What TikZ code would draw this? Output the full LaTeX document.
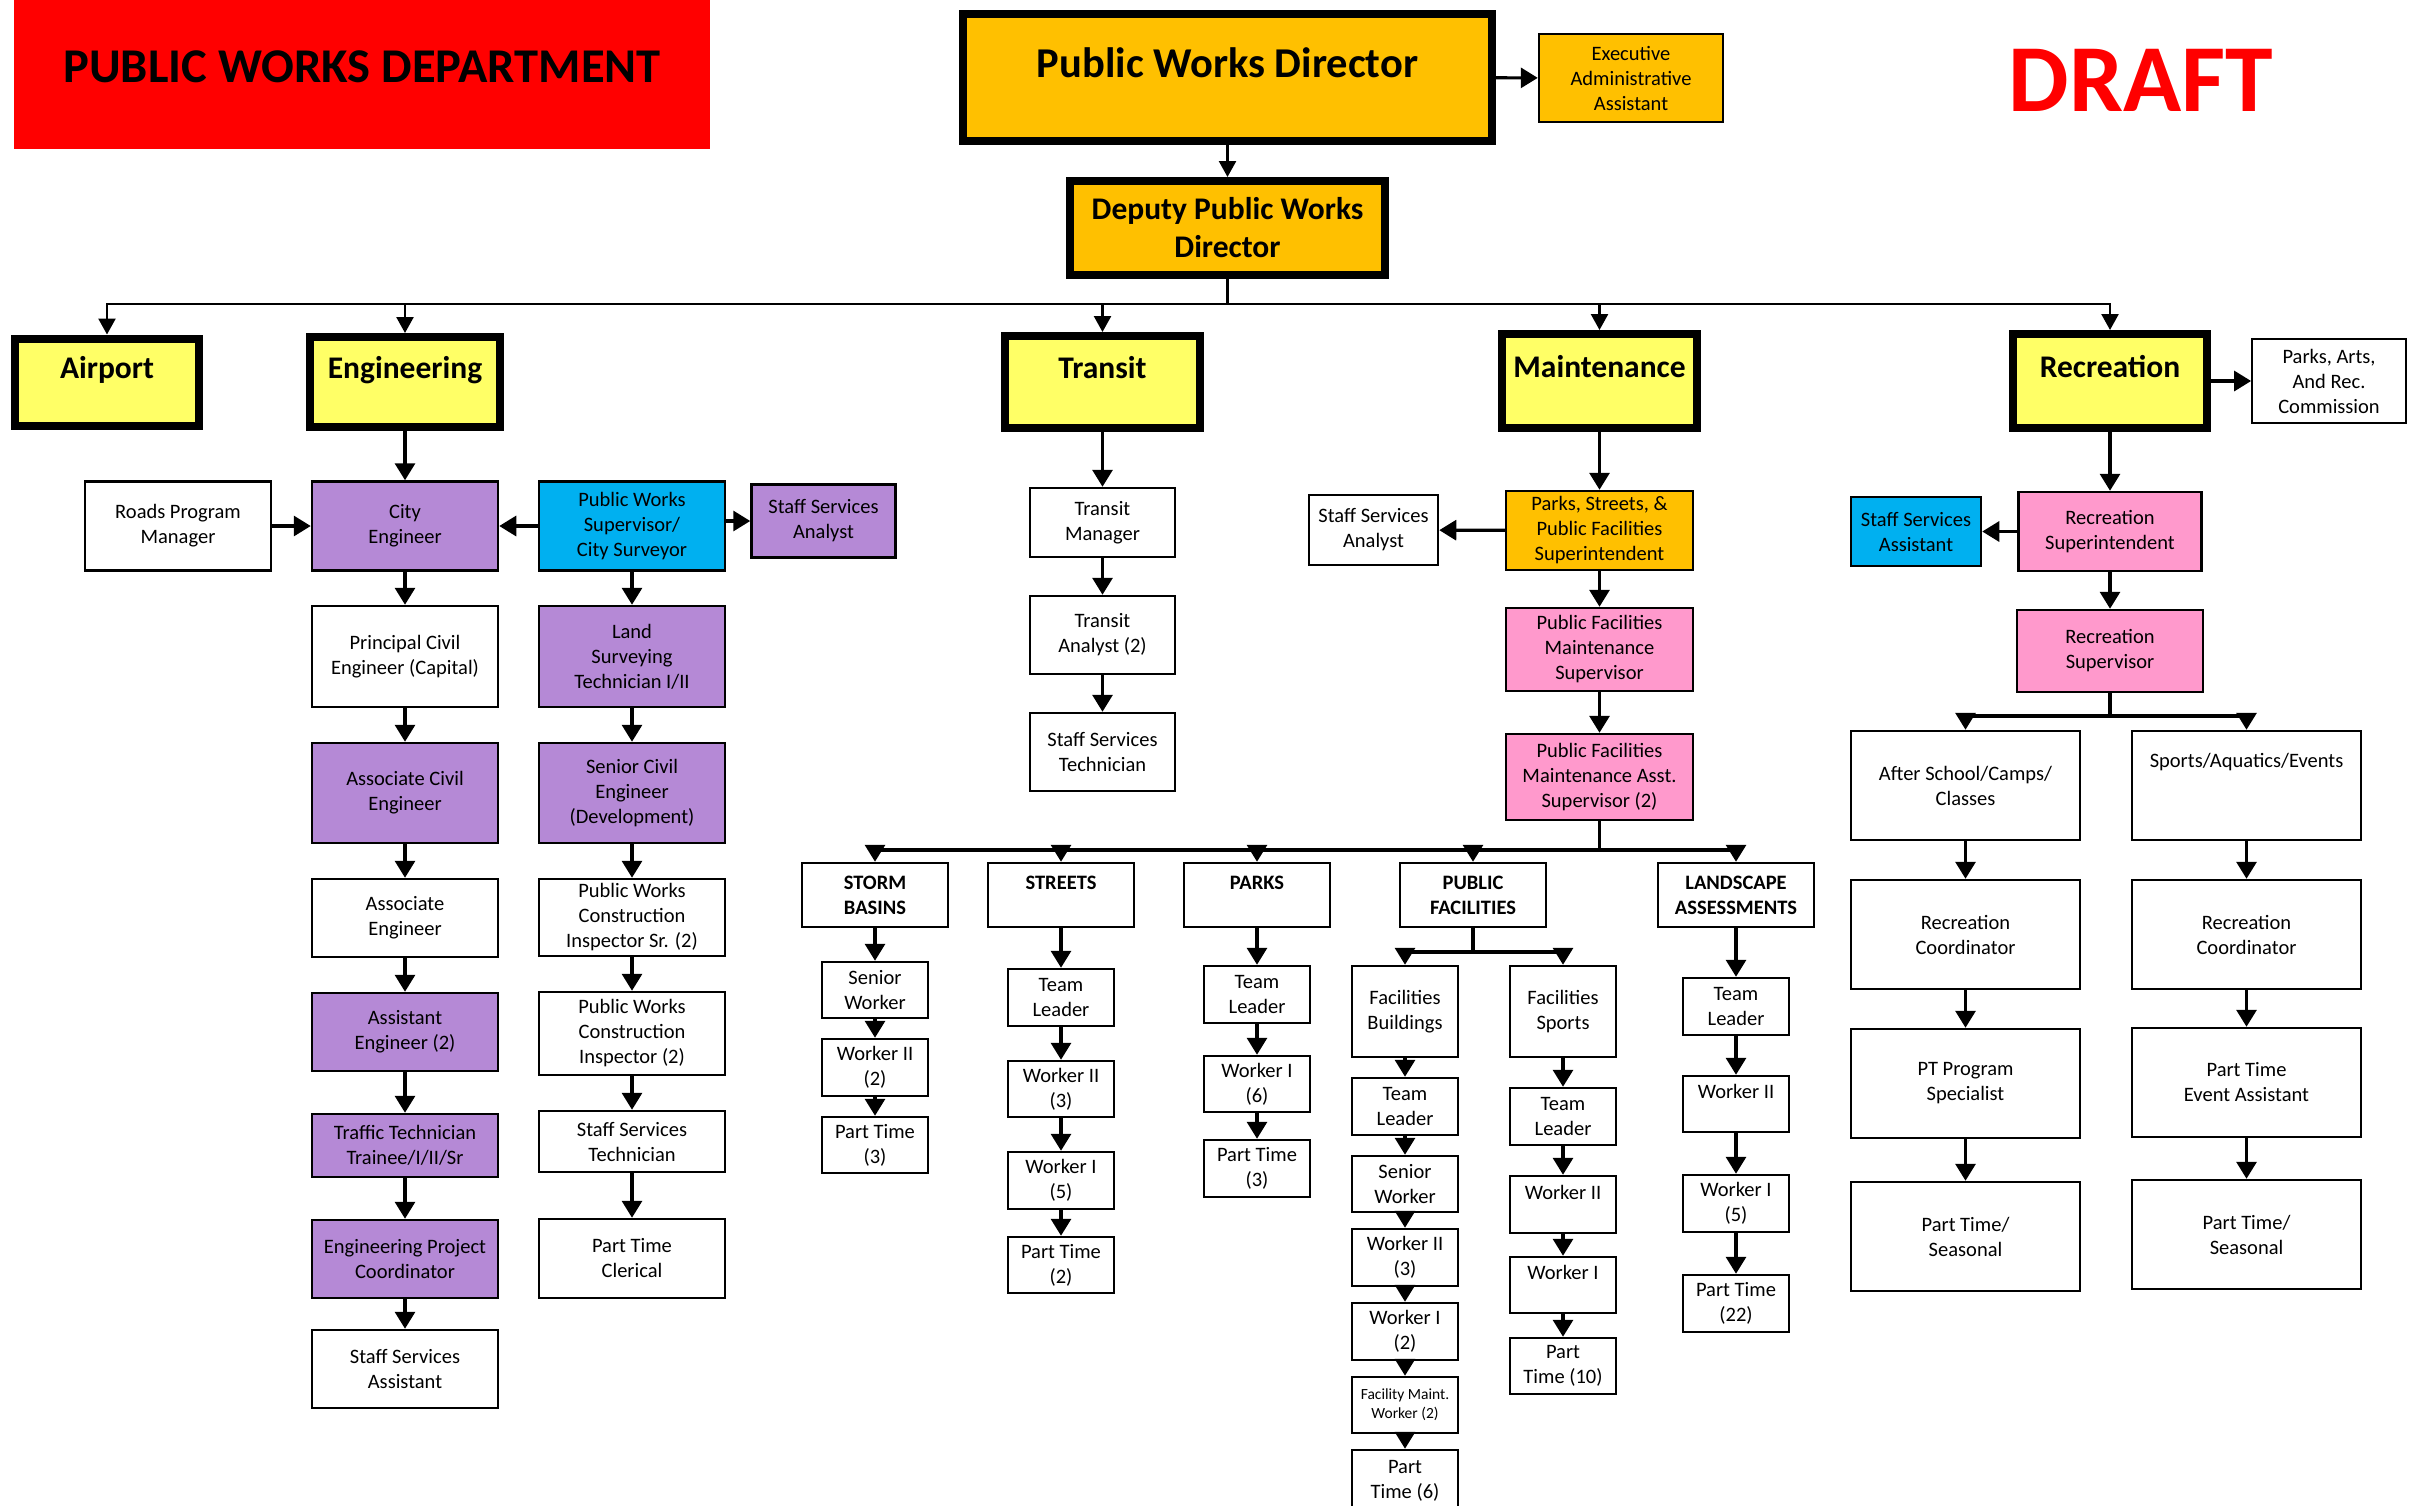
\documentclass[tikz,border=0pt]{standalone}
\usepackage{fontspec}
\setmainfont{Carlito}
\usetikzlibrary{arrows.meta}

\definecolor{pwred}{HTML}{FF0000}
\definecolor{pworange}{HTML}{FFC000}
\definecolor{pwyellow}{HTML}{FFFF66}
\definecolor{pwpurple}{HTML}{B589D6}
\definecolor{pwblue}{HTML}{00B0F0}
\definecolor{pwpink}{HTML}{FF99CC}

\tikzset{
  box/.style={draw, line width=2.5pt, fill=white, inner sep=1pt, align=center},
  dims/.style 2 args={minimum width=#1pt, minimum height=#2pt},
  purplebox/.style={box, fill=pwpurple},
  bluebox/.style={box, fill=pwblue},
  pinkbox/.style={box, fill=pwpink},
  orangebox/.style={box, fill=pworange},
  headbox/.style={draw, line width=8pt, fill=pworange, align=center, font=\bfseries\fontsize{31.5}{38}\selectfont},
  dept/.style={draw, line width=8pt, fill=pwyellow, font=\bfseries\fontsize{31.5}{38}\selectfont, text height=22pt, text depth=30pt},
  section/.style={box, font=\fontsize{20.5}{25}\selectfont\bfseries},
  conn/.style={line width=3.2pt},
  arr/.style={line width=3.2pt, -{Triangle[width=20pt,length=17pt]}},
  toparr/.style={line width=2.5pt, -{Triangle[width=17pt,length=16pt]}},
}

\begin{document}
\begin{tikzpicture}[x=1pt, y=-1pt, font=\fontsize{20.5}{25}\selectfont]
\useasboundingbox (0,0) rectangle (2424,1505);

% title and draft mark
\node[fill=pwred, dims={696}{149}, font=\bfseries\fontsize{48.5}{58}\selectfont, text height=31pt, text depth=16pt] (title) at (362,74.5) {PUBLIC WORKS DEPARTMENT};
\node[text=pwred, font=\bfseries\fontsize{96}{115}\selectfont] (draft) at (2141,80) {DRAFT};

% director level
\node[headbox, dims={529}{127}, font=\bfseries\fontsize{42.5}{51}\selectfont, text height=28pt, text depth=28pt] (director) at (1227.5,77.5) {Public Works Director};
\node[orangebox, dims={184}{88}] (exec) at (1631,78) {Executive\\Administrative\\Assistant};
\node[headbox, dims={315}{94}] (deputy) at (1227.5,228) {Deputy Public Works\\Director};

% divisions
\node[dept, dims={184}{87}] (airport) at (107,382) {Airport};
\node[dept, dims={190}{90}] (engineering) at (405,382) {Engineering};
\node[dept, dims={195}{92}] (transit) at (1102.5,382) {Transit};
\node[dept, dims={195}{94}] (maintenance) at (1599.5,381) {Maintenance};
\node[dept, dims={194}{94}] (recreation) at (2110,381) {Recreation};
\node[box, line width=1.8pt, dims={154}{84}] (parc) at (2329,381) {Parks, Arts,\\And Rec.\\Commission};

\draw[toparr] (director) -- (deputy);
\draw[arr] (director) -- (exec);
\coordinate (topbus) at (1227.5,304);
\draw[line width=2.5pt] (deputy) -- (topbus);
\draw[toparr] (topbus) -| (airport);
\draw[toparr] (topbus) -| (engineering);
\draw[toparr] (topbus) -| (transit);
\draw[toparr] (topbus) -| (maintenance);
\draw[toparr] (topbus) -| (recreation);
\draw[arr] (recreation) -- (parc);

% engineering
\node[box, dims={186}{89}] (roads) at (178,526) {Roads Program\\Manager};
\node[purplebox, dims={186}{89}] (cityeng) at (405,526) {City\\Engineer};
\node[bluebox, dims={186}{89}] (pwsuper) at (632,526) {Public Works\\Supervisor/\\City Surveyor};
\node[purplebox, dims={144}{73}] (engssa) at (823.5,521) {Staff Services\\Analyst};
\node[box, dims={186}{101}] (prince) at (405,656.5) {Principal Civil\\Engineer (Capital)};
\node[purplebox, dims={186}{100}] (acivil) at (405,793) {Associate Civil\\Engineer};
\node[box, dims={186}{78}] (aeng) at (405,918) {Associate\\Engineer};
\node[purplebox, dims={186}{78}] (asteng) at (405,1032) {Assistant\\Engineer (2)};
\node[purplebox, dims={186}{63}] (traffic) at (405,1145.5) {Traffic Technician\\Trainee/I/II/Sr};
\node[purplebox, dims={186}{78}] (epc) at (405,1259) {Engineering Project\\Coordinator};
\node[box, dims={186}{78}] (engssasst) at (405,1369) {Staff Services\\Assistant};
\node[purplebox, dims={186}{101}] (landsurv) at (632,656.5) {Land\\Surveying\\Technician I/II};
\node[purplebox, dims={186}{100}] (srcivil) at (632,793) {Senior Civil\\Engineer\\(Development)};
\node[box, dims={186}{77}] (inspsr) at (632,917.5) {Public Works\\Construction\\Inspector Sr. (2)};
\node[box, dims={186}{83}] (insp) at (632,1033.5) {Public Works\\Construction\\Inspector (2)};
\node[box, dims={186}{61}] (engsstech) at (632,1141.5) {Staff Services\\Technician};
\node[box, dims={186}{79}] (clerical) at (632,1258.5) {Part Time\\Clerical};

\draw[arr] (engineering) -- (cityeng);
\draw[arr] (roads) -- (cityeng);
\draw[arr] (pwsuper) -- (cityeng);
\draw[arr] (pwsuper.east |- engssa) -- (engssa);
\draw[arr] (cityeng) -- (prince);
\draw[arr] (prince) -- (acivil);
\draw[arr] (acivil) -- (aeng);
\draw[arr] (aeng) -- (asteng);
\draw[arr] (asteng) -- (traffic);
\draw[arr] (traffic) -- (epc);
\draw[arr] (epc) -- (engssasst);
\draw[arr] (pwsuper) -- (landsurv);
\draw[arr] (landsurv) -- (srcivil);
\draw[arr] (srcivil) -- (inspsr);
\draw[arr] (inspsr) -- (insp);
\draw[arr] (insp) -- (engsstech);
\draw[arr] (engsstech) -- (clerical);

% transit
\node[box, dims={145}{69}] (transitmgr) at (1102.5,522.5) {Transit\\Manager};
\node[box, dims={145}{78}] (tanalyst) at (1102.5,635) {Transit\\Analyst (2)};
\node[box, dims={145}{78}] (trsstech) at (1102.5,752) {Staff Services\\Technician};

\draw[arr] (transit) -- (transitmgr);
\draw[arr] (transitmgr) -- (tanalyst);
\draw[arr] (tanalyst) -- (trsstech);

% maintenance
\node[box, dims={129}{70}] (mssa) at (1373.5,530) {Staff Services\\Analyst};
\node[orangebox, dims={187}{79}] (pssuper) at (1599.5,530.5) {Parks, Streets, \&\\Public Facilities\\Superintendent};
\node[pinkbox, dims={187}{83}] (pfms) at (1599.5,649.5) {Public Facilities\\Maintenance\\Supervisor};
\node[pinkbox, dims={187}{86}] (pfmas) at (1599.5,777) {Public Facilities\\Maintenance Asst.\\Supervisor (2)};

\node[section, dims={146}{64}] (storm) at (875,895) {STORM\\BASINS};
\node[section, dims={146}{64}] (streets) at (1061,895) {STREETS\\~};
\node[section, dims={146}{64}] (parks) at (1257,895) {PARKS\\~};
\node[section, dims={146}{64}] (pubfac) at (1473,895) {PUBLIC\\FACILITIES};
\node[section, dims={156}{64}] (landscape) at (1736,895) {LANDSCAPE\\ASSESSMENTS};

\node[box, dims={106}{56}] (srworker) at (875,990) {Senior\\Worker};
\node[box, dims={106}{57}] (stw2) at (875,1067.5) {Worker II\\(2)};
\node[box, dims={106}{56}] (stpt) at (875,1145) {Part Time\\(3)};

\node[box, dims={106}{57}] (sttl) at (1061,997.5) {Team\\Leader};
\node[box, dims={106}{56}] (stsw2) at (1061,1089) {Worker II\\(3)};
\node[box, dims={106}{57}] (stsw1) at (1061,1180.5) {Worker I\\(5)};
\node[box, dims={106}{56}] (stspt) at (1061,1265) {Part Time\\(2)};

\node[box, dims={106}{57}] (pktl) at (1257,994.5) {Team\\Leader};
\node[box, dims={106}{56}] (pkw1) at (1257,1084) {Worker I\\(6)};
\node[box, dims={106}{57}] (pkpt) at (1257,1168.5) {Part Time\\(3)};

\node[box, dims={106}{91}] (fbld) at (1405,1011.5) {Facilities\\Buildings};
\node[box, dims={106}{57}] (bdtl) at (1405,1106.5) {Team\\Leader};
\node[box, dims={106}{56}] (bdsw) at (1405,1184) {Senior\\Worker};
\node[box, dims={106}{57}] (bdw2) at (1405,1257.5) {Worker II\\(3)};
\node[box, dims={106}{57}] (bdw1) at (1405,1331.5) {Worker I\\(2)};
\node[box, dims={106}{56}, font=\fontsize{15.5}{19}\selectfont] (bdfmw) at (1405,1405) {Facility Maint.\\Worker (2)};
\node[box, dims={106}{62}] (bdpt) at (1405,1481) {Part\\Time (6)};

\node[box, dims={106}{91}] (fsp) at (1563,1011.5) {Facilities\\Sports};
\node[box, dims={106}{57}] (sptl) at (1563,1116.5) {Team\\Leader};
\node[box, dims={106}{57}] (spw2) at (1563,1204.5) {Worker II\\~};
\node[box, dims={106}{56}] (spw1) at (1563,1285) {Worker I\\~};
\node[box, dims={106}{56}] (sppt) at (1563,1366) {Part\\Time (10)};

\node[box, dims={106}{57}] (lstl) at (1736,1006.5) {Team\\Leader};
\node[box, dims={106}{56}] (lsw2) at (1736,1104) {Worker II\\~};
\node[box, dims={106}{57}] (lsw1) at (1736,1203.5) {Worker I\\(5)};
\node[box, dims={106}{57}] (lspt) at (1736,1303.5) {Part Time\\(22)};

\draw[arr] (maintenance) -- (pssuper);
\draw[arr] (pssuper) -- (mssa);
\draw[arr] (pssuper) -- (pfms);
\draw[arr] (pfms) -- (pfmas);
\coordinate (mbus) at (1599.5,850);
\draw[conn] (pfmas) -- (mbus);
\draw[arr] (mbus) -| (storm);
\draw[arr] (mbus) -| (streets);
\draw[arr] (mbus) -| (parks);
\draw[arr] (mbus) -| (pubfac);
\draw[arr] (mbus) -| (landscape);

\draw[arr] (storm) -- (srworker);
\draw[arr] (srworker) -- (stw2);
\draw[arr] (stw2) -- (stpt);
\draw[arr] (streets) -- (sttl);
\draw[arr] (sttl) -- (stsw2);
\draw[arr] (stsw2) -- (stsw1);
\draw[arr] (stsw1) -- (stspt);
\draw[arr] (parks) -- (pktl);
\draw[arr] (pktl) -- (pkw1);
\draw[arr] (pkw1) -- (pkpt);

\coordinate (pfbus) at (1473,952);
\draw[conn] (pubfac) -- (pfbus);
\draw[arr] (pfbus) -| (fbld);
\draw[arr] (pfbus) -| (fsp);
\draw[arr] (fbld) -- (bdtl);
\draw[arr] (bdtl) -- (bdsw);
\draw[arr] (bdsw) -- (bdw2);
\draw[arr] (bdw2) -- (bdw1);
\draw[arr] (bdw1) -- (bdfmw);
\draw[arr] (bdfmw) -- (bdpt);
\draw[arr] (fsp) -- (sptl);
\draw[arr] (sptl) -- (spw2);
\draw[arr] (spw2) -- (spw1);
\draw[arr] (spw1) -- (sppt);
\draw[arr] (landscape) -- (lstl);
\draw[arr] (lstl) -- (lsw2);
\draw[arr] (lsw2) -- (lsw1);
\draw[arr] (lsw1) -- (lspt);

% recreation
\node[bluebox, dims={130}{69}] (rssa) at (1916,531.5) {Staff Services\\Assistant};
\node[pinkbox, dims={183}{79}] (recsuper) at (2110,531.5) {Recreation\\Superintendent};
\node[pinkbox, dims={186}{82}] (recsup) at (2110,651) {Recreation\\Supervisor};
\node[box, dims={229}{109}] (afterschool) at (1965.5,785.5) {After School/Camps/\\Classes};
\node[box, dims={229}{109}] (sportsaq) at (2246.5,785.5) {Sports/Aquatics/Events\\~\\~};
\node[box, dims={229}{109}] (rcoordl) at (1965.5,934.5) {Recreation\\Coordinator};
\node[box, dims={229}{109}] (rcoordr) at (2246.5,934.5) {Recreation\\Coordinator};
\node[box, dims={229}{109}] (ptspec) at (1965.5,1083.5) {PT Program\\Specialist};
\node[box, dims={229}{109}] (pteva) at (2246.5,1082.5) {Part Time\\Event Assistant};
\node[box, dims={229}{109}] (ptseasl) at (1965.5,1236.5) {Part Time/\\Seasonal};
\node[box, dims={229}{109}] (ptseasr) at (2246.5,1234.5) {Part Time/\\Seasonal};

\draw[arr] (recreation) -- (recsuper);
\draw[arr] (recsuper) -- (rssa);
\draw[arr] (recsuper) -- (recsup);
\coordinate (rbus) at (2110,716);
\draw[conn] (recsup) -- (rbus);
\draw[arr] (rbus) -| (afterschool);
\draw[arr] (rbus) -| (sportsaq);
\draw[arr] (afterschool) -- (rcoordl);
\draw[arr] (rcoordl) -- (ptspec);
\draw[arr] (ptspec) -- (ptseasl);
\draw[arr] (sportsaq) -- (rcoordr);
\draw[arr] (rcoordr) -- (pteva);
\draw[arr] (pteva) -- (ptseasr);
\end{tikzpicture}
\end{document}
